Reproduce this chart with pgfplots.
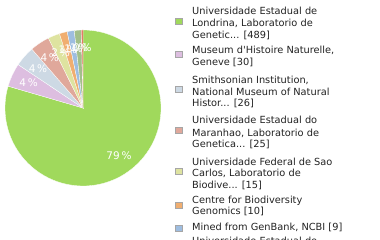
\documentclass[border=0pt]{standalone}
\usepackage{pgfplots}
\pgfplotsset{compat=1.18}
\usepackage{fontspec}
\setmainfont{DejaVu Sans}
\definecolor{c1}{HTML}{A0D95C}
\definecolor{c2}{HTML}{DDBEE0}
\definecolor{c3}{HTML}{CDD9E4}
\definecolor{c4}{HTML}{E0A89B}
\definecolor{c5}{HTML}{DEE3A0}
\definecolor{c6}{HTML}{F0AE70}
\definecolor{c7}{HTML}{9EBDE0}
\definecolor{c8}{HTML}{A2BF8A}
\definecolor{c9}{HTML}{E0694F}
\definecolor{txt}{HTML}{222222}
\begin{document}
\begin{tikzpicture}[x=1pt,y=1pt]
\useasboundingbox (0,0) rectangle (380,240);
\def\total{615}
\gdef\cum{0}
\begin{axis}[at={(83pt,132pt)},anchor=center,x=1pt,y=1pt,
  xmin=-80,xmax=80,ymin=-80,ymax=80,hide axis,scale only axis]
\addplot[draw=none] coordinates {(0,0)};
\foreach \v/\i/\l in {489/1/79,30/2/4,26/3/4,25/4/4,15/5/2,10/6/1,9/7/1,9/8/1,2/9/0} {
  \pgfmathsetmacro\a{90-\cum/\total*360}
  \pgfmathsetmacro\b{90-(\cum+\v)/\total*360}
  \pgfmathsetmacro\sx{78*cos(\a)}
  \pgfmathsetmacro\sy{78*sin(\a)}
  \edef\temp{\noexpand\fill[c\i,draw=white,line width=0.3pt] (axis cs:0,0) -- (axis cs:\sx,\sy) arc[start angle=\a,end angle=\b,radius=78pt] -- cycle;}
  \temp
  \pgfmathsetmacro\nc{\cum+\v}
  \xdef\cum{\nc}
}
\gdef\cum{0}
\foreach \v/\i/\l in {489/1/79,30/2/4,26/3/4,25/4/4,15/5/2,10/6/1,9/7/1,9/8/1,2/9/0} {
  \pgfmathsetmacro\a{90-\cum/\total*360}
  \pgfmathsetmacro\b{90-(\cum+\v)/\total*360}
  \pgfmathsetmacro\m{(\a+\b)/2}
  \pgfmathsetmacro\lx{60*cos(\m)}
  \pgfmathsetmacro\ly{60*sin(\m)}
  \edef\temp{\noexpand\node[white,inner sep=0pt,font=\noexpand\fontsize{10.5}{11}\noexpand\selectfont] at (axis cs:\lx,\ly) {\l\noexpand\,\noexpand\%};}
  \temp
  \pgfmathsetmacro\nc{\cum+\v}
  \xdef\cum{\nc}
}
\end{axis}
\tikzset{lt/.style={anchor=base west,inner sep=0pt,text=txt,font=\fontsize{9.8}{11}\selectfont},
  sq/.style={draw=gray!70,line width=0.5pt}}
% entry 1
\fill[c1,sq] (175,216) rectangle (182,222);
\node[lt] at (192,225.5) {Universidade Estadual de};
\node[lt] at (192,213.5) {Londrina, Laboratorio de};
\node[lt] at (192,201.5) {Genetic... [489]};
% entry 2
\fill[c2,sq] (175,183) rectangle (182,189);
\node[lt] at (192,186.5) {Museum d\XeTeXglyph\XeTeXglyphindex "quotesingle"\relax Histoire Naturelle,};
\node[lt] at (192,174.5) {Geneve [30]};
% entry 3
\fill[c3,sq] (175,148) rectangle (182,154);
\node[lt] at (192,156.5) {Smithsonian Institution,};
\node[lt] at (192,144.5) {National Museum of Natural};
\node[lt] at (192,133.5) {Histor... [26]};
% entry 4
\fill[c4,sq] (175,107) rectangle (182,113);
\node[lt] at (192,116.5) {Universidade Estadual do};
\node[lt] at (192,103.5) {Maranhao, Laboratorio de};
\node[lt] at (192,92.5) {Genetica... [25]};
% entry 5
\fill[c5,sq] (175,66) rectangle (182,72);
\node[lt] at (192,74.5) {Universidade Federal de Sao};
\node[lt] at (192,63.5) {Carlos, Laboratorio de};
\node[lt] at (192,51.5) {Biodive... [15]};
% entry 6
\fill[c6,sq] (175,32) rectangle (182,38);
\node[lt] at (192,36.5) {Centre for Biodiversity};
\node[lt] at (192,25.5) {Genomics [10]};
% entry 7
\fill[c7,sq] (175,9) rectangle (182,15);
\node[lt] at (192,9.5) {Mined from GenBank, NCBI [9]};
% entry 8
\fill[c8,sq] (175,-16) rectangle (182,-10);
\node[lt] at (192,-4.5) {Universidade Estadual de};
\end{tikzpicture}
\end{document}
